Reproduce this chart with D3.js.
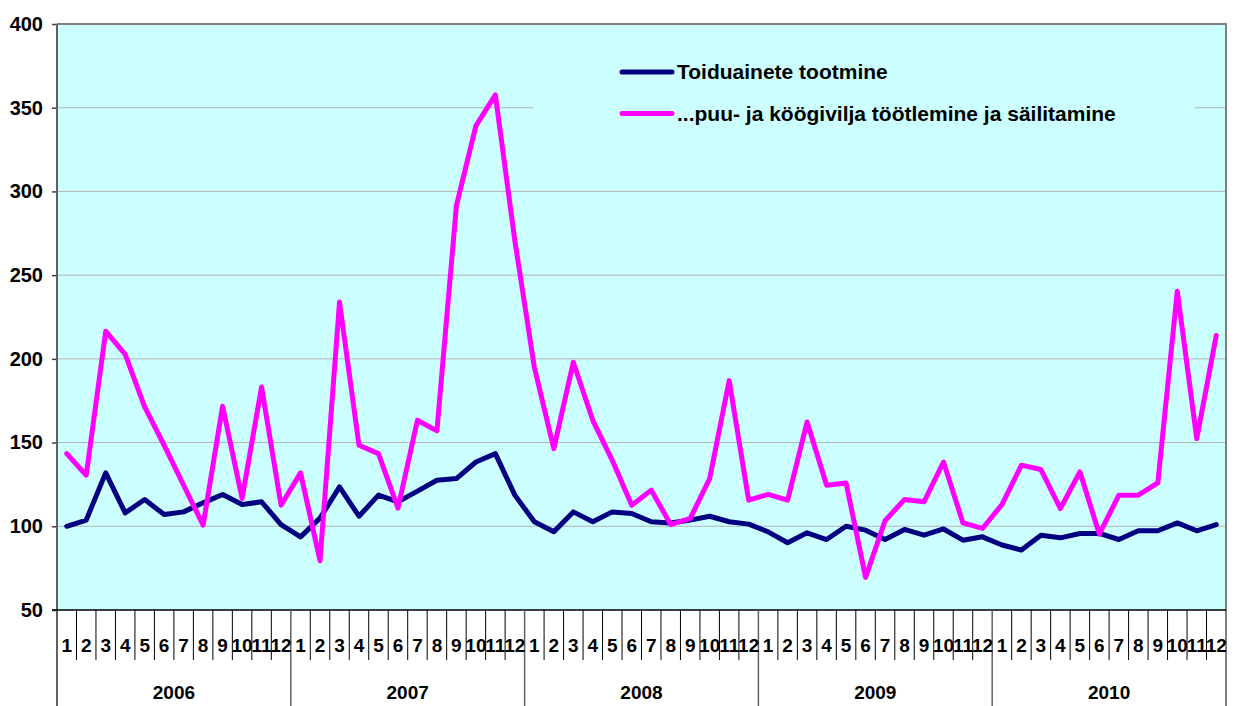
<!DOCTYPE html>
<html>
<head>
<meta charset="utf-8">
<script src="https://cdn.jsdelivr.net/npm/d3@7.9.0/dist/d3.min.js"></script>
<style>
  body { margin: 0; background: #fff; }
  svg { display: block; font-family: "Liberation Sans", Arial, sans-serif; font-weight: bold; }
</style>
</head>
<body>
<div id="vis"></div>
<script>
const width = 1239, height = 706;
const margin = { top: 24, right: 13, bottom: 96, left: 57 };

const years = ["2006", "2007", "2008", "2009", "2010"];
const months = ["1", "2", "3", "4", "5", "6", "7", "8", "9", "10", "11", "12"];
const yTicks = [50, 100, 150, 200, 250, 300, 350, 400];

const seriesNames = ["Toiduainete tootmine", "...puu- ja köögivilja töötlemine ja säilitamine"];

const food = [
  100, 103.7, 131.9, 108, 116, 107, 108.6, 114, 119, 113, 114.6, 101,
  93.7, 104.9, 123.5, 106, 118.6, 114.6, 121, 127.5, 128.5, 138.4, 143.4, 118.6,
  102.7, 96.7, 108.6, 102.7, 108.6, 107.6, 102.7, 102, 103.7, 106, 102.7, 101.3,
  96.7, 90.2, 96.1, 92.1, 100, 97.7, 92.1, 98.1, 94.7, 98.4, 91.7, 93.7,
  88.8, 85.8, 94.7, 93.1, 95.7, 95.7, 92.1, 97.3, 97.3, 102, 97.3, 101
];
const fruitVeg = [
  143.4, 130.5, 216.5, 202.7, 171.3, 148.4, 124.5, 100.7, 171.7, 116.6, 183.2, 112.6,
  131.9, 79.4, 233.9, 148.4, 143.4, 110.8, 163.3, 157, 291.5, 339.2, 357.7, 270.6,
  195, 146.4, 198, 163.3, 139.4, 112.6, 121.6, 101, 104.7, 128.5, 187, 115.6,
  119, 115.6, 162.3, 124.5, 125.9, 69.5, 103.3, 116, 114.6, 138.4, 102, 98.7,
  113, 136.5, 133.9, 110.6, 132.5, 95.3, 118.6, 118.6, 125.9, 240.4, 152.4, 214
];
const colors = ["#000080", "#ff00ff"];

const cats = years.flatMap(y => months.map(m => y + "-" + m));

const svg = d3.select("#vis").append("svg")
    .attr("width", width)
    .attr("height", height);

const x = d3.scaleBand()
    .domain(cats)
    .range([margin.left, width - margin.right])
    .padding(0);

const y = d3.scaleLinear()
    .domain([50, 400])
    .range([height - margin.bottom, margin.top]);

const plotTop = margin.top, plotBottom = height - margin.bottom;
const plotLeft = margin.left, plotRight = width - margin.right;

// plot background
svg.append("rect")
    .attr("x", plotLeft).attr("y", plotTop)
    .attr("width", plotRight - plotLeft).attr("height", plotBottom - plotTop)
    .attr("fill", "#ccffff");

// gridlines
svg.append("g")
  .selectAll("line")
  .data(yTicks.filter(d => d > 50 && d < 400))
  .join("line")
    .attr("x1", plotLeft).attr("x2", plotRight)
    .attr("y1", d => y(d)).attr("y2", d => y(d))
    .attr("stroke", "#b4b4b4")
    .attr("stroke-width", 1);

// legend box hides the grid behind it
const legend = svg.append("g");
legend.append("rect")
    .attr("x", 533).attr("y", 38)
    .attr("width", 662).attr("height", 106)
    .attr("fill", "#ccffff");

// series lines
const line = d3.line()
    .x((d, i) => x(cats[i]) + x.bandwidth() / 2)
    .y(d => y(d));

[food, fruitVeg].forEach((s, k) => {
  svg.append("path")
      .datum(s)
      .attr("fill", "none")
      .attr("stroke", colors[k])
      .attr("stroke-width", 5)
      .attr("stroke-linejoin", "round")
      .attr("stroke-linecap", "round")
      .attr("d", line);
});

// top and right borders
svg.append("line")
    .attr("x1", plotLeft).attr("x2", plotRight + 1)
    .attr("y1", plotTop).attr("y2", plotTop)
    .attr("stroke", "#808080").attr("stroke-width", 2);
svg.append("line")
    .attr("x1", plotRight).attr("x2", plotRight)
    .attr("y1", plotTop).attr("y2", height)
    .attr("stroke", "#808080").attr("stroke-width", 2);

// y axis
const yAxis = svg.append("g")
    .attr("transform", `translate(${plotLeft},0)`)
    .call(d3.axisLeft(y).tickValues(yTicks).tickSize(5).tickPadding(9));
yAxis.selectAll(".tick line").attr("stroke", "#404040").attr("stroke-width", 1.5);
yAxis.selectAll(".tick text")
    .attr("font-size", 20)
    .attr("font-weight", "bold")
    .attr("font-family", "Liberation Sans, Arial, sans-serif")
    .attr("fill", "#000");
yAxis.select(".domain").remove();
svg.append("line")
    .attr("x1", plotLeft).attr("x2", plotLeft)
    .attr("y1", plotTop).attr("y2", height)
    .attr("stroke", "#606060").attr("stroke-width", 2);

// bottom axis line
svg.append("line")
    .attr("x1", plotLeft - 5).attr("x2", plotRight)
    .attr("y1", plotBottom).attr("y2", plotBottom)
    .attr("stroke", "#000").attr("stroke-width", 1.5);

// month separators and labels
const xg = svg.append("g");
xg.selectAll("line.m")
  .data(cats.slice(1))
  .join("line")
    .attr("class", "m")
    .attr("x1", d => x(d)).attr("x2", d => x(d))
    .attr("y1", plotBottom)
    .attr("y2", (d, i) => (i + 1) % 12 === 0 ? height : plotBottom + 50)
    .attr("stroke", (d, i) => (i + 1) % 12 === 0 ? "#606060" : "#000")
    .attr("stroke-width", (d, i) => (i + 1) % 12 === 0 ? 1.5 : 1);

xg.selectAll("text.m")
  .data(cats)
  .join("text")
    .attr("class", "m")
    .attr("x", d => x(d) + x.bandwidth() / 2)
    .attr("y", plotBottom + 42)
    .attr("text-anchor", "middle")
    .attr("font-size", 19)
    .text(d => d.split("-")[1]);

xg.selectAll("text.y")
  .data(years)
  .join("text")
    .attr("class", "y")
    .attr("x", d => (x(d + "-1") + x(d + "-12") + x.bandwidth()) / 2)
    .attr("y", plotBottom + 89)
    .attr("text-anchor", "middle")
    .attr("font-size", 19)
    .text(d => d);

// legend entries
seriesNames.forEach((name, k) => {
  const ly = 72 + k * 41.5;
  legend.append("line")
      .attr("x1", 622).attr("x2", 672)
      .attr("y1", ly).attr("y2", ly)
      .attr("stroke", colors[k])
      .attr("stroke-width", 5)
      .attr("stroke-linecap", "round");
  legend.append("text")
      .attr("x", 677)
      .attr("y", ly + 7)
      .attr("font-size", 21)
      .text(name);
});
</script>
</body>
</html>
